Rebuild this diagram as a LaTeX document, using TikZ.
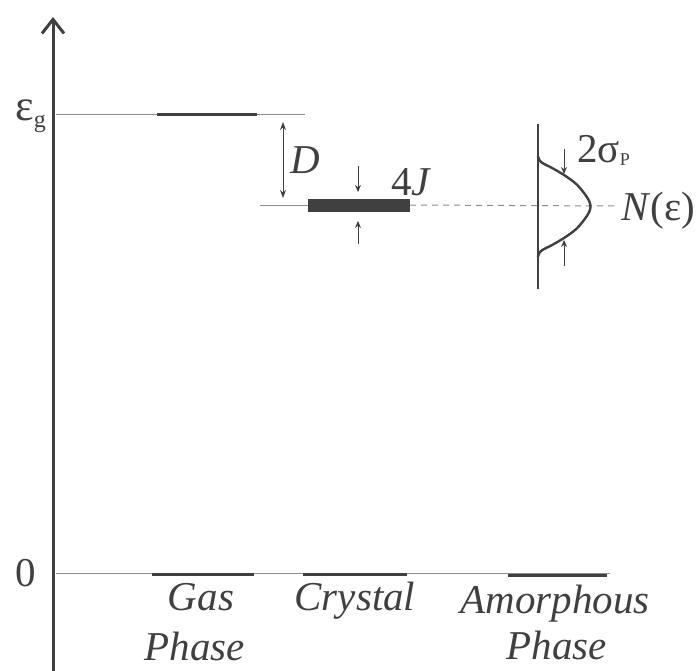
\documentclass[tikz,border=0pt]{standalone}
\usepackage{fontspec}
\setmainfont{Liberation Serif}
\usetikzlibrary{arrows.meta}
\definecolor{ink}{gray}{0.25}
\definecolor{faint}{gray}{0.55}
\begin{document}
\begin{tikzpicture}[x=1pt,y=-1pt,
  thinlevel/.style={draw=faint, line width=1pt},
  level/.style={draw=ink, line width=3pt},
  lbl/.style={text=ink, font=\fontsize{41}{48}\selectfont, inner sep=0pt},
  smallarrow/.style={draw=ink, line width=0.9pt, -{Stealth[length=7pt,width=6pt]}},
  dblarrow/.style={draw=ink, line width=1pt, {Stealth[length=8pt,width=6pt]}-{Stealth[length=8pt,width=6pt]}},
]
\useasboundingbox (0,0) rectangle (698,671);

% coordinates
\coordinate (axB) at (53,671);
\coordinate (axT) at (53,17);
\coordinate (egL) at (56,115);
\coordinate (egR) at (305,115);
\coordinate (gasL) at (157,115);
\coordinate (gasR) at (257,115);
\coordinate (zL) at (56,573);
\coordinate (zR) at (610,573);
\coordinate (crL) at (260,205);
\coordinate (barL) at (308,205);
\coordinate (barR) at (410,205);
\coordinate (dashR) at (614,206);
\coordinate (DT) at (283,122);
\coordinate (DB) at (283,198);
\coordinate (jT1) at (358,166);
\coordinate (jT2) at (358,192);
\coordinate (jB1) at (358,244);
\coordinate (jB2) at (358,221);
\coordinate (amT) at (538,124);
\coordinate (amB) at (538,289);
\coordinate (sT1) at (564,149);
\coordinate (sT2) at (564,174);
\coordinate (sB1) at (564,266);
\coordinate (sB2) at (564,240);
\coordinate (g0a) at (152,574);
\coordinate (g0b) at (254,574);
\coordinate (c0a) at (303,574);
\coordinate (c0b) at (407,574);
\coordinate (a0a) at (508,575);
\coordinate (a0b) at (607,575);

% thin reference lines
\draw[thinlevel] (egL) -- (egR);
\draw[thinlevel] (zL) -- (zR);
\draw[thinlevel] (crL) -- (barL);
\draw[draw=faint, line width=1pt, dash pattern=on 6pt off 5pt] (barR) -- (dashR);

% axis
\draw[draw=ink, line width=3pt, -{Straight Barb[length=14pt,width=22pt]}] (axB) -- (axT);

% levels
\draw[level] (gasL) -- (gasR);
\draw[draw=ink, line width=13pt] (barL) -- (barR);
\draw[level] (g0a) -- (g0b);
\draw[level] (c0a) -- (c0b);
\draw[level] (a0a) -- (a0b);

% D arrow
\draw[dblarrow] (DT) -- (DB);
% 4J arrows
\draw[smallarrow] (jT1) -- (jT2);
\draw[smallarrow] (jB1) -- (jB2);
% sigma arrows
\draw[smallarrow] (sT1) -- (sT2);
\draw[smallarrow] (sB1) -- (sB2);

% amorphous DOS
\draw[draw=ink, line width=2.5pt] (amT) -- (amB);
\draw[draw=ink, line width=2.4pt] plot[smooth, tension=0.6] coordinates {
 (538,156) (541,162) (553,168.5) (567,177) (580,188) (590.5,206.5)
 (580,225) (567,236) (553,244.5) (541,251) (538,257)};

% labels
\node[lbl, anchor=base east] (eg) at (46,121) {\fontsize{44}{48}\selectfont ε\raisebox{-7pt}{\fontsize{24}{24}\selectfont g}};
\node[lbl, anchor=base] (zero) at (26,586) {0};
\node[lbl, anchor=base] (Dl) at (305,174) {\textit{D}};
\node[lbl, anchor=base west] (fourJ) at (391,195) {4\textit{J}};
\node[lbl, anchor=base west] (sig) at (577,163) {2σ\raisebox{-3pt}{\fontsize{18}{18}\selectfont P}};
\node[lbl, anchor=base west] (Ne) at (621,220) {\textit{N}(ε)};
\node[lbl, anchor=base] (gas1) at (201,610) {\textit{Gas}};
\node[lbl, anchor=base] (gas2) at (195,660) {\textit{Phase}};
\node[lbl, anchor=base] (cry) at (355,610) {\textit{Crystal}};
\node[lbl, anchor=base] (am1) at (555,613) {\textit{Amorphous}};
\node[lbl, anchor=base] (am2) at (557,659) {\textit{Phase}};
\end{tikzpicture}
\end{document}
